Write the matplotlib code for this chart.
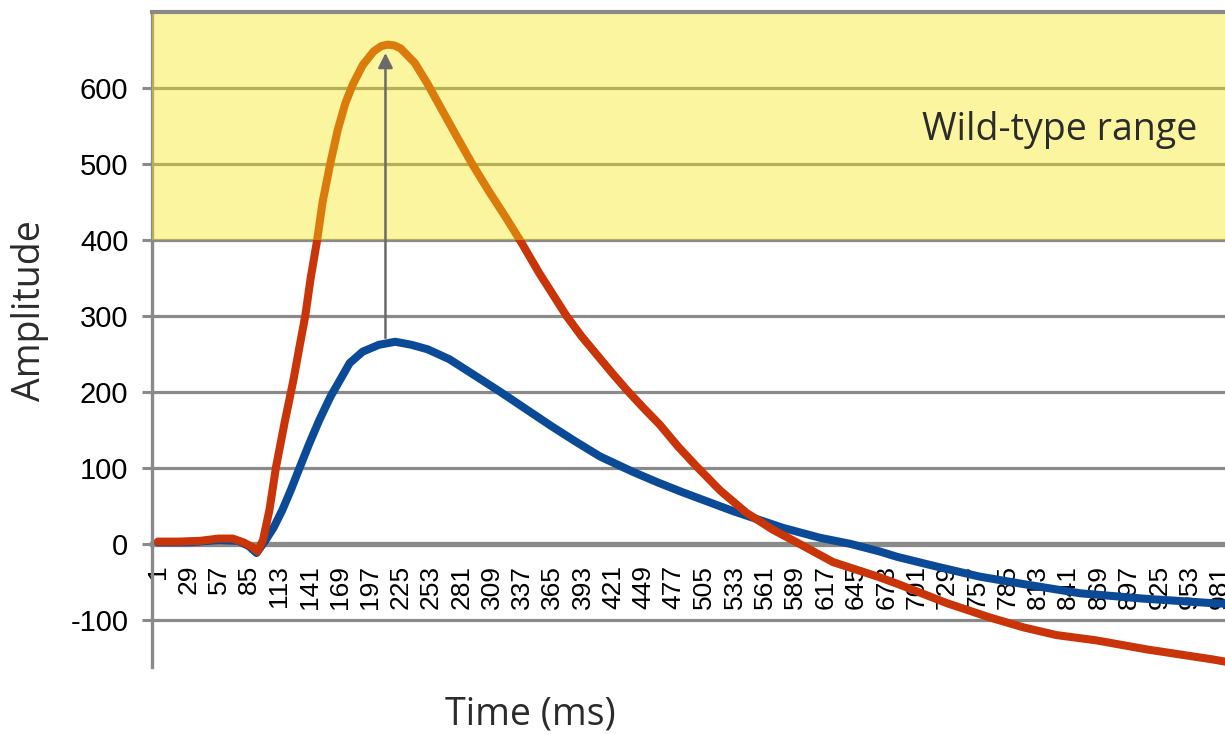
import numpy as np
import matplotlib
matplotlib.use('Agg')
import matplotlib.pyplot as plt
from matplotlib import font_manager

# ── data ──────────────────────────────────────────────────────────────────────
red_t = [1, 20, 40, 57, 70, 80, 88, 93, 98, 104, 110, 118, 126, 132, 137, 142,
         148, 153, 160, 167, 174, 181, 190, 200, 207, 213, 219, 225, 238, 250,
         262, 276, 291, 306, 321, 335, 353, 366, 378, 392, 406, 420, 434, 449,
         464, 481, 498, 520, 544, 568, 593, 624, 650, 667, 686, 729, 769, 800,
         830, 867, 914, 974, 990]
red_amp = [3, 3, 4, 7, 7, 2, -4, -10, 5, 45, 101, 160, 215, 262, 300, 350,
           400, 450, 500, 545, 580, 605, 630, 648, 655, 657, 656, 652, 633, 605,
           574, 538, 500, 465, 432, 400, 356, 327, 300, 273, 249, 225, 202, 179,
           157, 128, 102, 70, 41, 19, 0, -24, -36, -44, -54, -78, -97, -110,
           -120, -127, -139, -152, -156]

blue_t = [1, 30, 57, 75, 85, 92, 100, 108, 116, 124, 132, 141, 150, 160, 168,
          178, 190, 205, 220, 235, 250, 270, 293, 317, 340, 363, 386, 409, 439,
          462, 485, 532, 578, 612, 640, 667, 683, 720, 759, 800, 852, 910, 974, 990]
blue_amp = [2, 2, 5, 4, -3, -12, 4, 22, 45, 72, 101, 133, 163, 193, 213,
            238, 253, 262, 266, 262, 256, 243, 222, 200, 178, 156, 135, 115, 95,
            81, 68, 43, 21, 8, 0, -10, -17, -30, -43, -53, -65, -72, -78, -79]

x_ticks = list(range(1, 982, 28))
y_ticks = [-100, 0, 100, 200, 300, 400, 500, 600]
band_lo, band_hi = 400, 700
arrow_t, arrow_from, arrow_to = 211, 271, 646

# ── fonts ─────────────────────────────────────────────────────────────────────
installed = {f.name for f in font_manager.fontManager.ttflist}
narrow = 'Liberation Sans Narrow' if 'Liberation Sans Narrow' in installed else 'Liberation Sans'
label_font = 'Open Sans' if 'Open Sans' in installed else 'DejaVu Sans'

GRID = '#8a8a8a'
fig = plt.figure(figsize=(12.25, 7.34), dpi=100, facecolor='white')
ax = fig.add_axes([0.124, 0.0913, 0.876, 0.8924])

ax.set_xlim(-4.5, 985.6)
ax.set_ylim(-162, 700)

# grid
for yv in y_ticks:
    if yv != 0:
        ax.axhline(yv, color=GRID, lw=2.3, zorder=1)

ax.plot(blue_t, blue_amp, color='#0B4A97', lw=5.8, solid_capstyle='round',
        solid_joinstyle='round', zorder=2)
ax.plot(red_t, red_amp, color='#C93408', lw=5.8, solid_capstyle='round',
        solid_joinstyle='round', zorder=2.2)

# yellow band drawn over the lines (turns red into orange, grid into olive)
ax.axhspan(band_lo, band_hi, color='#F7E811', alpha=0.4, lw=0, zorder=3)

ax.annotate('', xy=(arrow_t, arrow_to), xytext=(arrow_t, arrow_from),
            arrowprops=dict(arrowstyle='-|>', color='#6a6a6a', lw=1.8,
                            mutation_scale=22, shrinkA=0, shrinkB=0),
            zorder=4)

ax.text(960, 545, 'Wild-type range', ha='right', va='center', fontsize=27,
        color='#2b2b2b', family=label_font, zorder=6)

# spines
ax.spines['right'].set_visible(False)
ax.spines['top'].set_color(GRID)
ax.spines['top'].set_linewidth(3)
ax.spines['top'].set_zorder(5)
ax.spines['left'].set_color(GRID)
ax.spines['left'].set_linewidth(2.4)
ax.spines['bottom'].set_position(('data', 0))
ax.spines['bottom'].set_color(GRID)
ax.spines['bottom'].set_linewidth(3.8)
ax.spines['bottom'].set_zorder(1.5)

ax.set_yticks(y_ticks)
ax.set_yticklabels([str(v) for v in y_ticks], family=narrow, fontsize=21)
ax.tick_params(axis='y', length=7, width=2.2, color=GRID, pad=10)

ax.set_xticks(x_ticks)
ax.set_xticklabels([str(v) for v in x_ticks], rotation=90, family='Liberation Sans',
                   fontsize=19)
ax.tick_params(axis='x', length=0, pad=15)

fig.text(30 / 1225, 1 - 311 / 734, 'Amplitude', rotation=90, ha='center', va='center',
         fontsize=27, color='#2b2b2b', family=label_font)
fig.text(530 / 1225, 1 - 715 / 734, 'Time (ms)', ha='center', va='center',
         fontsize=27, color='#2b2b2b', family=label_font)

plt.savefig('out.png', dpi=100, facecolor='white')
plt.close()
